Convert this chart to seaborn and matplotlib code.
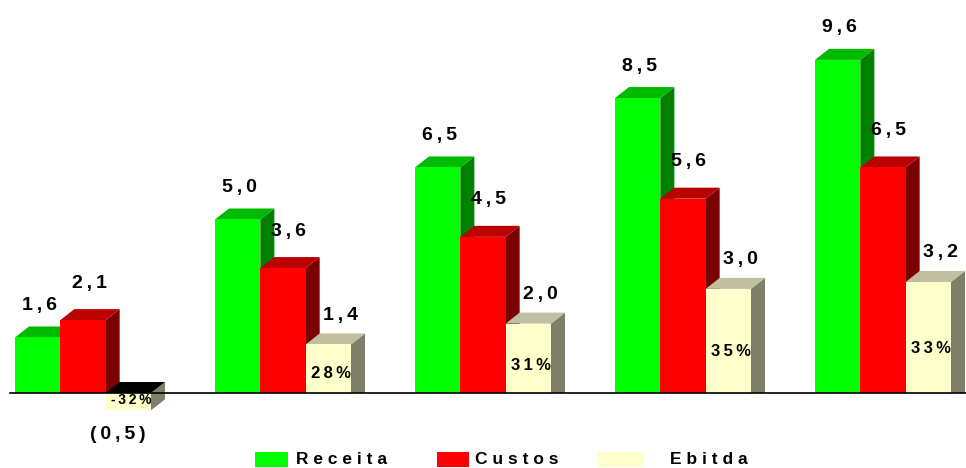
import numpy as np
import pandas as pd
import matplotlib
matplotlib.use("Agg")
import matplotlib.pyplot as plt
from matplotlib.patches import Polygon, Rectangle
import seaborn as sns

# Dados (R$ milhões) por período
periodos = ["Ano 1", "Ano 2", "Ano 3", "Ano 4", "Ano 5"]
series = ["Receita", "Custos", "Ebitda"]
receita = [1.6, 5.0, 6.5, 8.5, 9.6]
custos = [2.1, 3.6, 4.5, 5.6, 6.5]
ebitda = [-0.5, 1.4, 2.0, 3.0, 3.2]
margem_ebitda = [-32, 28, 31, 35, 33]

# Cores: frente, topo, lateral
cores_frente = {"Receita": "#00FF00", "Custos": "#FF0000", "Ebitda": "#FFFFCC"}
cores_topo = {"Receita": "#00BA00", "Custos": "#BA0000", "Ebitda": "#C0C0A0"}
cores_lado = {"Receita": "#008000", "Custos": "#7A0000", "Ebitda": "#80806A"}

df = pd.DataFrame({
    "periodo": periodos * 3,
    "serie": np.repeat(series, len(periodos)),
    "valor": receita + custos + ebitda,
})

W, H, DPI = 966, 468, 100
fig = plt.figure(figsize=(W / DPI, H / DPI), dpi=DPI)
ax = fig.add_axes([0, 0, 1, 1])

sns.barplot(data=df, x="periodo", y="valor", hue="serie", hue_order=series,
            palette=cores_frente, width=0.68, saturation=1, errorbar=None,
            linewidth=0, legend=False, ax=ax)

# escala: 200 px por grupo, ~34.7 px por unidade
px_x = 200.0
px_y = 34.7
base_px = 393
x0_px = 83
ax.set_xlim(-x0_px / px_x, (W - x0_px) / px_x)
ax.set_ylim(-(H - base_px) / px_y, base_px / px_y)
ax.axis("off")

# profundidade do efeito 3D
prof_x = 14 / px_x
prof_y = 11 / px_y

fonte = "Liberation Sans"
ESP = "\u2009"

def espacado(txt, sep=ESP):
    return sep.join(txt)

def fmt(v):
    s = f"{abs(v):.1f}".replace(".", ",")
    return espacado(s) if v >= 0 else espacado("(" + s + ")")

desloc_rotulo = {"Receita": (2, 32), "Custos": (6, 37), "Ebitda": (12, 29)}

for k, (serie, cont) in enumerate(zip(series, ax.containers)):
    z = 2 + k
    for i, bar in enumerate(cont.patches):
        x = bar.get_x()
        w = bar.get_width()
        v = float(cont.datavalues[i])
        bar.set_zorder(z + 0.5)
        if v >= 0:
            topo = [(x, v), (x + w, v), (x + w + prof_x, v + prof_y), (x + prof_x, v + prof_y)]
            lado = [(x + w, 0), (x + w + prof_x, 0), (x + w + prof_x, v + prof_y), (x + w, v)]
            cor_topo = cores_topo[serie]
        else:
            topo = [(x, 0), (x + w, 0), (x + w + prof_x, prof_y), (x + prof_x, prof_y)]
            lado = [(x + w, v), (x + w + prof_x, v + prof_y), (x + w + prof_x, prof_y), (x + w, 0)]
            cor_topo = "#000000"
        ax.add_patch(Polygon(lado, closed=True, facecolor=cores_lado[serie],
                             edgecolor="none", zorder=z))
        ax.add_patch(Polygon(topo, closed=True, facecolor=cor_topo,
                             edgecolor="none", zorder=z + 0.2))

        cx = x + w / 2
        if v >= 0:
            ox, oy = desloc_rotulo[serie]
        else:
            ox, oy = -11, -24
        ax.annotate(fmt(v), xy=(cx, v), xytext=(ox, oy), textcoords="offset pixels",
                    ha="center", va="center", fontsize=14, fontweight="bold",
                    family=fonte, color="black", zorder=20)

        if serie == "Ebitda":
            m = margem_ebitda[i]
            ax.annotate(espacado(f"{m}%"), xy=(cx, v * 0.4), xytext=(3, 0),
                        textcoords="offset pixels", ha="center", va="center",
                        fontsize=12 if m >= 0 else 10, fontweight="bold",
                        family=fonte, color="black", zorder=20)

# linha de base
ax.axhline(0, xmin=10 / W, xmax=1, color="black", linewidth=1.2, zorder=15)

# legenda
itens = [("Receita", 255, 288, 296), ("Custos", 437, 469, 475), ("Ebitda", 598, 644, 670)]
for nome, xa, xb, xt in itens:
    fig.patches.append(Rectangle((xa / W, (H - 467) / H), (xb - xa) / W, 15 / H,
                                 transform=fig.transFigure, facecolor=cores_frente[nome],
                                 edgecolor="none"))
    fig.text(xt / W, (H - 460) / H, espacado(nome, " "), ha="left", va="center",
             fontsize=12.5, fontweight="bold", family=fonte, color="black")

fig.savefig("out.png", dpi=DPI)
